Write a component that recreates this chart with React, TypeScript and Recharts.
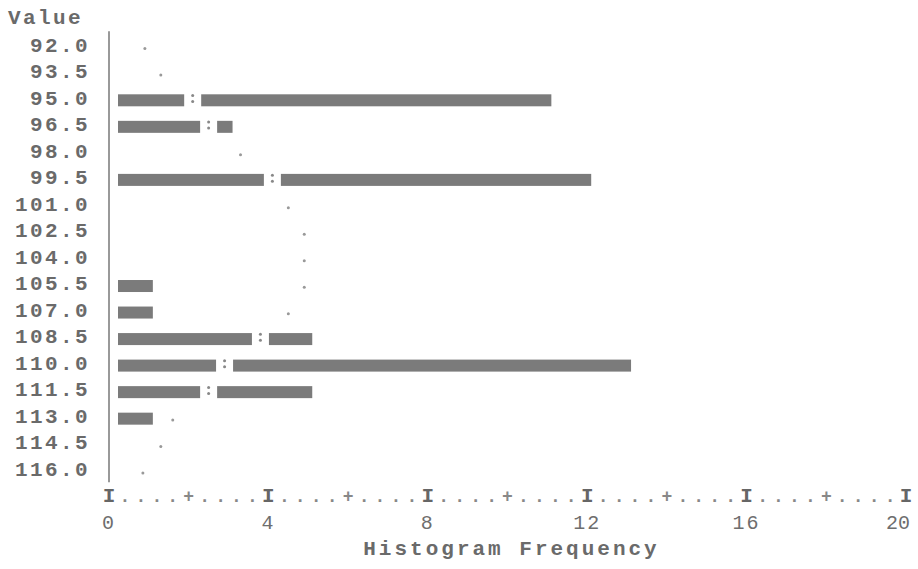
import { ComposedChart, Bar, Line, XAxis, YAxis, Label } from 'recharts';

const valueLabels = ['92.0', '93.5', '95.0', '96.5', '98.0', '99.5', '101.0', '102.5', '104.0', '105.5', '107.0', '108.5', '110.0', '111.5', '113.0', '114.5', '116.0'];
const frequencies = [0, 0, 11, 3, 0, 12, 0, 0, 0, 1, 1, 5, 13, 5, 1, 0, 0];
const normalCurve = [0.9, 1.3, 2.1, 2.5, 3.3, 4.1, 4.5, 4.9, 4.9, 4.9, 4.5, 3.8, 2.9, 2.5, 1.6, 1.3, 0.85];
const majorTicks = [0, 4, 8, 12, 16, 20];
const minorTicks = [2, 6, 10, 14, 18];

const data = valueLabels.map((label, i) => ({ label, freq: frequencies[i], curve: normalCurve[i] }));

// line-printer style axis: a glyph every 0.4 units
const axisTicks = Array.from({ length: 51 }, (_, k) => Math.round(k * 4) / 10);

const FONT = '"Liberation Mono", "DejaVu Sans Mono", monospace';
const TEXT = '#6a6a6a';
const BAR = '#7b7b7b';

const BarShape = (props: any) => {
  const { x, y, width, height } = props;
  if (!width || width <= 0) return <g />;
  return <rect x={x + 9} y={y + 3} width={width - 5} height={height} fill={BAR} />;
};

const CurveDot = (props: any) => {
  const { cx, cy, payload, index } = props;
  if (cx == null || cy == null) return <g key={index} />;
  if (payload.freq > payload.curve) {
    return (
      <g key={index}>
        <rect x={cx - 8.5} y={cy - 5} width={17} height={16} fill="#fff" />
        <circle cx={cx} cy={cy - 2} r={1.5} fill="#888" />
        <circle cx={cx} cy={cy + 4} r={1.5} fill="#888" />
      </g>
    );
  }
  return <circle key={index} cx={cx} cy={cy + 4} r={1.5} fill="#999" />;
};

const YTick = (props: any) => {
  const { y, payload } = props;
  return (
    <text x={90} y={y + 7} textAnchor="end" fontFamily={FONT} fontSize={21} fontWeight="bold"
      fill={TEXT} style={{ letterSpacing: '2.4px' }}>
      {payload.value}
    </text>
  );
};

const XTick = (props: any) => {
  const { x, y, payload } = props;
  const v = payload.value;
  const k = Math.round(v / 0.4);
  const isMajor = majorTicks.includes(v) && k % 10 === 0;
  const isMinor = minorTicks.includes(v) && k % 5 === 0;
  const glyph = isMajor ? 'I' : isMinor ? '+' : '.';
  const isLast = v === majorTicks[majorTicks.length - 1];
  return (
    <g>
      <text x={x} y={y + 20} textAnchor="middle" fontFamily={FONT} fontSize={isMajor ? 21 : 18}
        fontWeight="bold" fill={isMajor ? '#666' : '#888'}>
        {glyph}
      </text>
      {isMajor && (
        <text x={isLast ? x + 4 : x} y={y + 47} textAnchor={isLast ? 'end' : 'middle'} fontFamily={FONT}
          fontSize={20} fill="#6e6e6e" style={{ letterSpacing: isLast ? '0px' : '2px' }}>
          {v}
        </text>
      )}
    </g>
  );
};

export default function App() {
  return (
    <div style={{ position: 'absolute', left: 0, top: 0, width: 918, height: 569, background: '#fff' }}>
      <ComposedChart width={918} height={569} data={data} layout="vertical"
        margin={{ top: 31.25, right: 12, bottom: 26.75, left: 0 }}>
        <XAxis type="number" domain={[0, 20]} ticks={axisTicks} interval={0} height={60}
          axisLine={false} tickLine={false} tickSize={0} tickMargin={0} tick={<XTick />}>
          <Label content={(p: any) => (
            <text x={p.viewBox.x + p.viewBox.width / 2 + 4} y={p.viewBox.y + 73} textAnchor="middle"
              fontFamily={FONT} fontSize={21} fontWeight="bold" fill={TEXT} style={{ letterSpacing: '3px' }}>
              Histogram Frequency
            </text>
          )} />
        </XAxis>
        <YAxis type="category" dataKey="label" width={109} axisLine={{ stroke: '#777', strokeWidth: 1.5 }}
          tickLine={false} tick={<YTick />} interval={0}>
          <Label content={() => (
            <text x={8} y={24} textAnchor="start" fontFamily={FONT} fontSize={21} fontWeight="bold"
              fill={TEXT} style={{ letterSpacing: '2.4px' }}>
              Value
            </text>
          )} />
        </YAxis>
        <Bar dataKey="freq" barSize={12} shape={<BarShape />} isAnimationActive={false} />
        <Line dataKey="curve" stroke="none" dot={<CurveDot />} activeDot={false} isAnimationActive={false} />
      </ComposedChart>
    </div>
  );
}
